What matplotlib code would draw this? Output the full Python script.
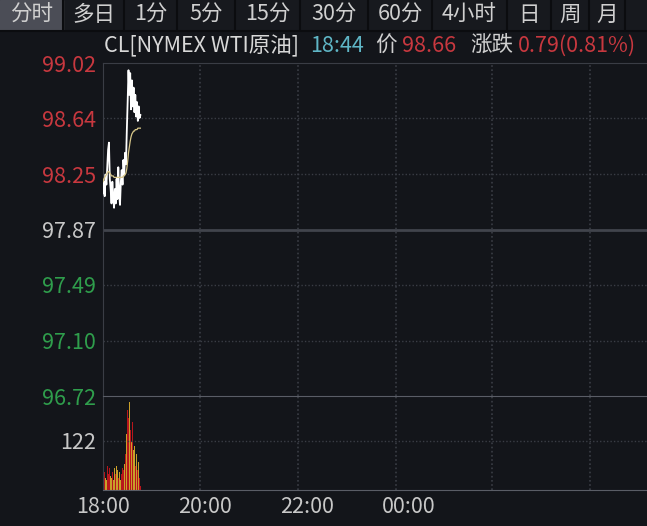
import matplotlib
matplotlib.use("Agg")
import matplotlib.pyplot as plt

plt.rcParams['font.family'] = ['Noto Sans CJK SC', 'DejaVu Sans']

# minute data, 18:00 -> 18:44
minutes = list(range(45))
price = [98.12, 98.20, 98.10, 98.25, 98.18, 98.30, 98.42, 98.47, 98.22, 98.15,
         98.05, 98.20, 98.10, 98.02, 98.15, 98.05, 98.22, 98.08, 98.30, 98.12,
         98.04, 98.20, 98.28, 98.18, 98.35, 98.25, 98.40, 98.32, 98.55, 98.75,
         98.97, 98.80, 98.95, 98.70, 98.90, 98.72, 98.85, 98.68, 98.80, 98.65,
         98.75, 98.62, 98.72, 98.64, 98.66]
avg_price = [98.20, 98.22, 98.23, 98.24, 98.25, 98.26, 98.27, 98.27, 98.26, 98.25,
             98.24, 98.24, 98.24, 98.23, 98.23, 98.23, 98.23, 98.23, 98.23, 98.23,
             98.23, 98.23, 98.23, 98.23, 98.24, 98.24, 98.25, 98.26, 98.29, 98.34,
             98.40, 98.44, 98.48, 98.51, 98.53, 98.54, 98.55, 98.55, 98.56, 98.56,
             98.56, 98.57, 98.57, 98.57, 98.57]
volume = [80, 45, 30, 50, 25, 60, 40, 55, 35, 50, 30, 45, 25, 55, 40, 60, 35, 50,
          30, 45, 25, 40, 55, 35, 50, 65, 90, 140, 200, 235, 180, 220, 150, 120,
          170, 100, 80, 110, 60, 90, 50, 70, 30, 60, 10]

price_ticks = [99.02, 98.64, 98.25, 97.87, 97.49, 97.10, 96.72]
prev_close = 97.87
time_ticks = [0, 120, 240, 360]
time_labels = ['18:00', '20:00', '22:00', '00:00']
grid_x = [114, 230, 345, 458, 573]
tabs = ['分时', '多日', '1分', '5分', '15分', '30分', '60分', '4小时', '日', '周', '月', '']
tab_edges = [0, 63, 124, 177, 235, 300, 368, 432, 507, 551, 589, 625, 660]

W, H = 647, 526
BG = '#13151a'
GRID = '#3a3d45'
RED = '#c8383f'
GREEN = '#2f9e4c'
GRAY = '#c8c8c8'
FS = 15.5

fig = plt.figure(figsize=(W / 100, H / 100), dpi=100, facecolor=BG)

def box(x0, y0, x1, y1):
    return [x0 / W, 1 - y1 / H, (x1 - x0) / W, (y1 - y0) / H]

# tab bar
tab_ax = fig.add_axes([0, 0, 1, 1], facecolor='none')
tab_ax.set_xlim(0, W)
tab_ax.set_ylim(H, 0)
tab_ax.axis('off')
tab_ax.add_patch(plt.Rectangle((0, 0), W, 30, color='#17191e', zorder=0))
tab_ax.add_patch(plt.Rectangle((0, 0), 63, 30, color='#4b4d56', zorder=1))
for i, t in enumerate(tabs):
    x0, x1 = tab_edges[i], tab_edges[i + 1]
    if i > 0:
        tab_ax.plot([x0, x0], [0, 30], color='#0b0c0f', lw=1.5, zorder=2)
    tab_ax.text((x0 + x1) / 2, 15, t, color='#d0d0d0', fontsize=FS, ha='center', va='center')
tab_ax.plot([0, W], [30.5, 30.5], color='#0b0c0f', lw=1.5)

# title line
parts = [('CL[NYMEX WTI原油]', '#d8d8d8', 104), ('18:44', '#5fb6c6', 310),
         ('价', '#d0d0d0', 375), ('98.66', RED, 402), ('涨跌', '#d0d0d0', 470),
         ('0.79(0.81%)', RED, 518)]
for s, c, x in parts:
    tab_ax.text(x, 46, s, color=c, fontsize=FS, ha='left', va='center')

# price panel
ax = fig.add_axes(box(103, 63, W + 5, 396), facecolor=BG)
ax.plot(minutes, price, color='white', lw=1.3, zorder=3)
ax.plot(minutes, avg_price, color='#d9c88a', lw=0.9, zorder=4)
ax.set_xlim(0, 646)
ax.set_ylim(96.72, 99.02)
for p in price_ticks[1:-1]:
    if p == prev_close:
        ax.axhline(p, color='#41444c', lw=2)
    else:
        ax.axhline(p, color=GRID, lw=1, ls=(0, (1, 1.5)))
for gx in grid_x:
    ax.axvline(gx, color=GRID, lw=1.2, ls=(0, (1, 1.5)))
ax.set_yticks(price_ticks)
ax.set_yticklabels([f'{p:.2f}' for p in price_ticks], fontsize=FS)
for lab, p in zip(ax.get_yticklabels(), price_ticks):
    lab.set_color(RED if p > prev_close else (GRAY if p == prev_close else GREEN))
ax.tick_params(axis='y', length=0, pad=5)
ax.set_xticks([])
for s in ['right', 'bottom']:
    ax.spines[s].set_visible(False)
ax.spines['left'].set_color(GRID)
ax.spines['top'].set_color(GRID)

# volume panel
vx = fig.add_axes(box(103, 396, W + 5, 490), facecolor=BG)
colors = ['#b8161c' if i == 0 or price[i] >= price[i - 1] else '#c9a02a' for i in minutes]
vx.bar(minutes, volume, width=1.0, color=colors, linewidth=0, align='edge')
vx.set_xlim(0, 646)
vx.set_ylim(0, 234)
vx.axhline(122, color=GRID, lw=1, ls=(0, (1, 1.5)))
for gx in grid_x:
    vx.axvline(gx, color=GRID, lw=1.2, ls=(0, (1, 1.5)))
vx.set_yticks([122])
vx.set_yticklabels(['122'], fontsize=FS, color=GRAY)
vx.tick_params(axis='y', length=0, pad=5)
vx.set_xticks(time_ticks)
vx.set_xticklabels(time_labels, fontsize=FS, color=GRAY)
vx.tick_params(axis='x', length=0, pad=4)
vx.spines['right'].set_visible(False)
vx.spines['left'].set_color(GRID)
vx.spines['top'].set_color('#5a5d66')
vx.spines['bottom'].set_color('#5a5d66')

fig.savefig('out.png', dpi=100, facecolor=BG)
